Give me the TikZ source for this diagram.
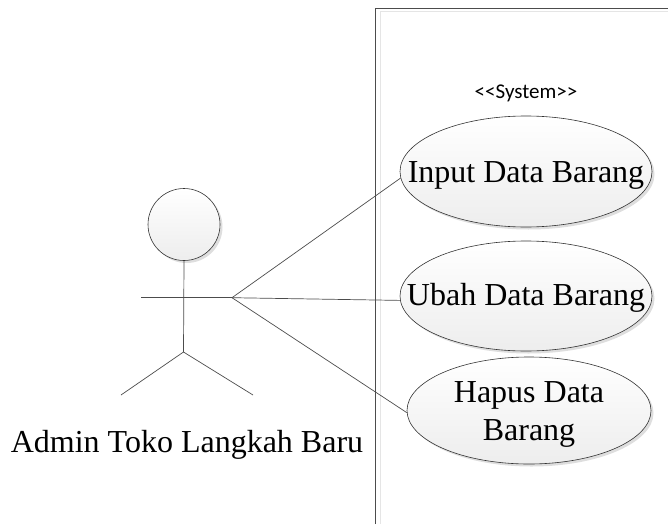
\documentclass[tikz,border=0pt]{standalone}
\usepackage{fontspec}
\setmainfont{Liberation Serif}
\usetikzlibrary{shapes.geometric,shadows}
\newfontfamily\sysfont{Carlito}
\tikzset{
  px/.style={x=1pt,y=-1pt},
  line/.style={draw=black!70,line width=0.7pt},
  softshadow/.style={general shadow={fill=black!13,shadow xshift=2.5pt,shadow yshift=-2.5pt}},
  uc/.style={ellipse,draw=black!80,line width=0.6pt,inner sep=0pt,minimum width=#1,
    top color=white,bottom color=black!7,softshadow},
  uclabel/.style={font=\fontsize{32}{38}\selectfont,align=center,text=black,anchor=base}
}
\begin{document}
\begin{tikzpicture}[px]
\useasboundingbox (0,0) rectangle (668,524);
% system frame
\coordinate (ftl) at (375.7,8.3);
\coordinate (ftr) at (668,8.3);
\coordinate (fbl) at (375.7,524);
\draw[black!10,line width=1pt] (380,524) -- (380,12) -- (668,12);
\draw[black!70,line width=0.75pt] (fbl) -- (ftl) -- (ftr);
\node[font=\sysfont\fontsize{21}{24}\selectfont,anchor=base] (sys) at (526,99) {<<System>>};
% use cases
\node[uc=252pt,minimum height=111pt] (u1) at (526,171.5) {};
\node[uc=252pt,minimum height=110pt] (u2) at (526,296) {};
\node[uc=244pt,minimum height=107pt] (u3) at (529,410.5) {};
\node[uclabel] at (526,182) {Input Data Barang};
\node[uclabel] at (526,305) {Ubah Data Barang};
\node[uclabel] at (529,402) {Hapus Data};
\node[uclabel] at (529,440) {Barang};
% actor
\node[circle,draw=black!80,line width=0.6pt,minimum size=72pt,inner sep=0pt,
  top color=white,bottom color=black!7,softshadow] (head) at (184,224.5) {};
\coordinate (hip) at (183.5,352);
\coordinate (armL) at (141,297.7);
\coordinate (armR) at (232,297.7);
\coordinate (footL) at (121,395);
\coordinate (footR) at (253,395);
\draw[line] (head.south) -- (hip);
\draw[line] (armL) -- (armR);
\draw[line] (footL) -- (hip) -- (footR);
\node[font=\fontsize{32}{38}\selectfont,anchor=base] (actor) at (187,452) {Admin Toko Langkah Baru};
% connectors
\draw[line] (armR) -- (u1.183);
\draw[line] (armR) -- (u2.182);
\draw[line] (armR) -- (u3.181);
\end{tikzpicture}
\end{document}
